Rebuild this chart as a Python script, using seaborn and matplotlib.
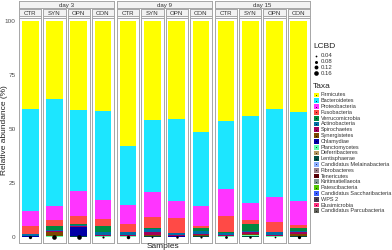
import numpy as np
import pandas as pd
import matplotlib
matplotlib.use("Agg")
import matplotlib.pyplot as plt
from matplotlib.patches import Rectangle
import seaborn as sns

# facet labels
days = ["day 3", "day 9", "day 15"]
groups = ["CTR", "SYN", "OPN", "CON"]

taxa = ["Firmicutes", "Bacteroidetes", "Proteobacteria", "Fusobacteria", "Verrucomicrobia",
        "Actinobacteria", "Spirochaetes", "Synergistetes", "Chlamydiae", "Planctomycetes",
        "Deferribacteres", "Lentisphaerae", "Candidatus Melainabacteria", "Fibrobacteres",
        "Tenericutes", "Kiritimatiellaeota", "Patescibacteria", "Candidatus Saccharibacteria",
        "WPS 2", "Elusimicrobia", "Candidatus Parcubacteria"]
taxa_colors = ["#FFFF00", "#1CE6FF", "#FF34FF", "#FF4A46", "#008941", "#006FA6", "#A30059",
               "#7A4900", "#0000A6", "#63FFAC", "#B79762", "#004D43", "#8FB0FF", "#997D87",
               "#5A0007", "#809693", "#4FC601", "#3B5DFF", "#4A3B53", "#FF2F80", "#61615A"]

# relative abundance (%), samples ordered day3 CTR..CON, day9 CTR..CON, day15 CTR..CON
firmicutes      = [40.8, 36.1, 41.3, 41.7, 57.6, 45.5, 45.2, 51.4, 46.0, 44.0, 40.8, 42.2]
bacteroidetes   = [47.0, 49.2, 37.1, 41.2, 27.4, 33.5, 38.1, 34.1, 31.8, 39.9, 40.6, 41.1]
proteobacteria  = [6.8, 6.6, 11.9, 8.5, 8.9, 11.4, 7.7, 9.2, 12.1, 8.0, 11.3, 11.0]
fusobacteria    = [3.8, 2.7, 3.4, 3.3, 3.4, 5.2, 6.9, 1.1, 7.6, 1.9, 4.6, 1.3]
verrucomicrobia = [0.2, 2.2, 0.6, 3.0, 0.4, 0.5, 0.3, 1.4, 0.6, 3.1, 0.3, 1.3]
actinobacteria  = [0.6, 0.3, 0.3, 1.3, 1.2, 1.5, 0.9, 1.0, 0.7, 0.4, 1.2, 0.8]
spirochaetes    = [0.2, 0.6, 0.4, 0.4, 0.4, 1.2, 0.3, 0.6, 0.4, 1.2, 0.4, 0.7]
synergistetes   = [0.1, 1.8, 0.1, 0.1, 0.1, 0.3, 0.1, 0.3, 0.1, 0.2, 0.2, 0.8]
chlamydiae      = [0.1, 0.1, 4.2, 0.1, 0.1, 0.1, 0.1, 0.1, 0.1, 0.1, 0.1, 0.1]
planctomycetes  = [0.1, 0.1, 0.2, 0.1, 0.2, 0.2, 0.1, 0.2, 0.2, 0.7, 0.1, 0.1]
deferribacteres = [0.05, 0.05, 0.08, 0.05, 0.05, 0.1, 0.05, 0.1, 0.06, 0.08, 0.06, 0.1]
lentisphaerae   = [0.04, 0.04, 0.06, 0.04, 0.04, 0.08, 0.04, 0.08, 0.05, 0.06, 0.05, 0.08]
melainabacteria = [0.04, 0.04, 0.06, 0.03, 0.03, 0.06, 0.03, 0.06, 0.05, 0.06, 0.05, 0.06]
fibrobacteres   = [0.03, 0.03, 0.05, 0.03, 0.03, 0.06, 0.03, 0.06, 0.04, 0.05, 0.04, 0.06]
tenericutes     = [0.03, 0.03, 0.05, 0.03, 0.03, 0.06, 0.03, 0.06, 0.04, 0.05, 0.04, 0.06]
kiritimatiellaeota = [0.03, 0.03, 0.05, 0.03, 0.03, 0.05, 0.03, 0.05, 0.04, 0.05, 0.04, 0.05]
patescibacteria = [0.02, 0.02, 0.04, 0.02, 0.02, 0.04, 0.02, 0.04, 0.03, 0.04, 0.03, 0.04]
saccharibacteria = [0.02, 0.02, 0.04, 0.02, 0.02, 0.04, 0.02, 0.04, 0.03, 0.04, 0.03, 0.04]
wps2            = [0.02, 0.02, 0.03, 0.02, 0.02, 0.03, 0.02, 0.03, 0.02, 0.03, 0.02, 0.03]
elusimicrobia   = [0.01, 0.02, 0.02, 0.03, 0.01, 0.02, 0.01, 0.02, 0.02, 0.02, 0.02, 0.02]
parcubacteria   = [0.01, 0.01, 0.02, 0.01, 0.01, 0.02, 0.01, 0.02, 0.01, 0.02, 0.01, 0.02]

abundance = [firmicutes, bacteroidetes, proteobacteria, fusobacteria, verrucomicrobia,
             actinobacteria, spirochaetes, synergistetes, chlamydiae, planctomycetes,
             deferribacteres, lentisphaerae, melainabacteria, fibrobacteres, tenericutes,
             kiritimatiellaeota, patescibacteria, saccharibacteria, wps2, elusimicrobia,
             parcubacteria]

lcbd = [0.09, 0.16, 0.17, 0.05, 0.10, 0.04, 0.06, 0.05, 0.07, 0.06, 0.03, 0.09]
lcbd_breaks = [0.04, 0.08, 0.12, 0.16]

W, H = 392, 250
SIZES = (1.6, 11.0)
NORM = (0.04, 0.16)
border = "#A6A6A6"
strip_fill = "#F2F2F2"

sns.set_theme(style="white")
plt.rcParams["font.family"] = ["Liberation Sans", "DejaVu Sans"]

fig = plt.figure(figsize=(W / 100, H / 100), dpi=100)


def px_axes(x0, y0, x1, y1):
    return fig.add_axes([x0 / W, 1 - y1 / H, (x1 - x0) / W, (y1 - y0) / H])


pts = pd.DataFrame({"x": 0.0, "y": 0.0, "LCBD": lcbd})

pw, gap, ggap = 22.3, 2.0, 2.7
top, bot = 17.5, 243
lefts = []
x = 19
for d in range(3):
    for g in range(4):
        lefts.append(x)
        x += pw + gap
    x += ggap - gap

for i, x0 in enumerate(lefts):
    ax = px_axes(x0, top, x0 + pw, bot)
    cum = 0.0
    for t in range(len(taxa) - 1, -1, -1):
        v = abundance[t][i]
        ax.bar(0, v, bottom=cum, width=0.9, color=taxa_colors[t], linewidth=0)
        cum += v
    sns.scatterplot(data=pts.iloc[[i]], x="x", y="y", size="LCBD", sizes=SIZES,
                    size_norm=NORM, color="black", linewidth=0, legend=False, ax=ax)
    ax.set_xlim(-0.6, 0.6)
    ax.set_ylim(-2.6, 101.6)
    ax.set_xlabel("")
    ax.set_ylabel("")
    ax.set_xticks([0])
    ax.set_xticklabels([""])
    for s in ax.spines.values():
        s.set_color(border)
        s.set_linewidth(0.7)
    ax.tick_params(axis="x", length=1.5, width=0.5, color="#7F7F7F", pad=0)
    if i == 0:
        ax.set_yticks([0, 25, 50, 75, 100])
        ax.set_yticklabels(["0", "25", "50", "75", "100"], fontsize=4.6, color="#4D4D4D")
        ax.tick_params(axis="y", length=1.5, width=0.5, color="#7F7F7F", pad=1)
    else:
        ax.set_yticks([])

    # group strip
    sax = px_axes(x0, 9.2, x0 + pw, 16.2)
    sax.set_xticks([])
    sax.set_yticks([])
    sax.set_facecolor(strip_fill)
    for s in sax.spines.values():
        s.set_color(border)
        s.set_linewidth(0.7)
    sax.text(0.5, 0.45, groups[i % 4], ha="center", va="center", fontsize=4.4,
             color="#333333", transform=sax.transAxes)

for d in range(3):
    x0 = lefts[d * 4]
    x1 = lefts[d * 4 + 3] + pw
    dax = px_axes(x0, 1.3, x1, 8.2)
    dax.set_xticks([])
    dax.set_yticks([])
    dax.set_facecolor(strip_fill)
    for s in dax.spines.values():
        s.set_color(border)
        s.set_linewidth(0.7)
    dax.text(0.5, 0.45, days[d], ha="center", va="center", fontsize=4.4,
             color="#333333", transform=dax.transAxes)

fig.text(5 / W, 1 - 130 / H, "Relative abundance (%)", rotation=90, ha="center",
         va="center", fontsize=6.0, color="#222222")
fig.text(163 / W, 1 - 246 / H, "Samples", ha="center", va="center", fontsize=6.0,
         color="#222222")

# legends drawn in pixel space
lax = fig.add_axes([0, 0, 1, 1], zorder=5)
lax.set_xlim(0, W)
lax.set_ylim(H, 0)
lax.axis("off")

lax.text(313, 47, "LCBD", fontsize=6.0, va="center", ha="left", color="#222222")
for k, b in enumerate(lcbd_breaks):
    yy = 55.7 + k * 5.8
    s = SIZES[0] + (b - NORM[0]) / (NORM[1] - NORM[0]) * (SIZES[1] - SIZES[0])
    lax.scatter([316.5], [yy], s=s, color="black", linewidth=0)
    lax.text(321, yy, f"{b:.2f}", fontsize=4.3, va="center", ha="left", color="#333333")

lax.text(313, 86, "Taxa", fontsize=6.0, va="center", ha="left", color="#222222")
for k, (name, c) in enumerate(zip(taxa, taxa_colors)):
    yy = 95 + k * 5.79
    lax.add_patch(Rectangle((314, yy - 2.4), 4.8, 4.8, facecolor=c, edgecolor="none"))
    lax.scatter([316.4], [yy], s=0.5, color="black", linewidth=0, alpha=0.6)
    lax.text(321, yy, name, fontsize=4.0, va="center", ha="left", color="#333333")

fig.savefig("out.png", dpi=100)
